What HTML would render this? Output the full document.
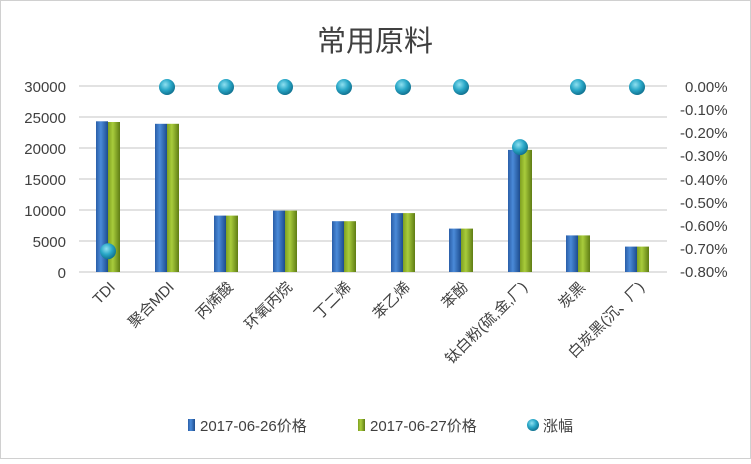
<!DOCTYPE html><html><head><meta charset="utf-8"><style>body{margin:0;background:#fff}</style></head><body>
<svg width="751" height="459" xmlns="http://www.w3.org/2000/svg" font-family="Liberation Sans, Noto Sans CJK SC, sans-serif">
<defs>
<linearGradient id="b" x1="0" x2="1"><stop offset="0" stop-color="#2a5ea8"/><stop offset=".4" stop-color="#4a8ad8"/><stop offset="1" stop-color="#1d4c8e"/></linearGradient>
<linearGradient id="g" x1="0" x2="1"><stop offset="0" stop-color="#7fa020"/><stop offset=".4" stop-color="#a8cc3c"/><stop offset="1" stop-color="#5f7c14"/></linearGradient>
<radialGradient id="d" cx=".4" cy=".35" r=".7"><stop offset="0" stop-color="#8fe0f0"/><stop offset=".5" stop-color="#2aa8c8"/><stop offset="1" stop-color="#0d6a88"/></radialGradient>
</defs>
<rect x="0.5" y="0.5" width="750" height="458" fill="#fff" stroke="#d0d0d0"/>
<text x="375" y="51" font-size="29" text-anchor="middle" fill="#404040">常用原料</text>
<g stroke="#d9d9d9" stroke-width="1.5">
<line x1="79" x2="667" y1="86" y2="86"/><line x1="79" x2="667" y1="117" y2="117"/><line x1="79" x2="667" y1="148" y2="148"/><line x1="79" x2="667" y1="179" y2="179"/><line x1="79" x2="667" y1="210" y2="210"/><line x1="79" x2="667" y1="241" y2="241"/><line x1="79" x2="667" y1="272" y2="272"/>
</g>
<g font-size="15" fill="#404040" text-anchor="end">
<text x="66" y="92">30000</text><text x="66" y="123">25000</text><text x="66" y="154">20000</text><text x="66" y="185">15000</text><text x="66" y="216">10000</text><text x="66" y="247">5000</text><text x="66" y="278">0</text>
</g>
<g font-size="15" fill="#404040">
<text x="685" y="92">0.00%</text><text x="680" y="115">-0.10%</text><text x="680" y="138">-0.20%</text><text x="680" y="161">-0.30%</text><text x="680" y="185">-0.40%</text><text x="680" y="208">-0.50%</text><text x="680" y="231">-0.60%</text><text x="680" y="254">-0.70%</text><text x="680" y="277">-0.80%</text>
</g>
<g>
<rect x="96" y="121.3" width="12" height="150.7" fill="url(#b)"/><rect x="108" y="122" width="12" height="150" fill="url(#g)"/>
<rect x="155" y="123.8" width="12" height="148.2" fill="url(#b)"/><rect x="167" y="123.8" width="12" height="148.2" fill="url(#g)"/>
<rect x="214" y="215.6" width="12" height="56.4" fill="url(#b)"/><rect x="226" y="215.6" width="12" height="56.4" fill="url(#g)"/>
<rect x="273" y="210.6" width="12" height="61.4" fill="url(#b)"/><rect x="285" y="210.6" width="12" height="61.4" fill="url(#g)"/>
<rect x="332" y="221.2" width="12" height="50.8" fill="url(#b)"/><rect x="344" y="221.2" width="12" height="50.8" fill="url(#g)"/>
<rect x="391" y="213.1" width="12" height="58.9" fill="url(#b)"/><rect x="403" y="213.1" width="12" height="58.9" fill="url(#g)"/>
<rect x="449" y="228.6" width="12" height="43.4" fill="url(#b)"/><rect x="461" y="228.6" width="12" height="43.4" fill="url(#g)"/>
<rect x="508" y="149.9" width="12" height="122.1" fill="url(#b)"/><rect x="520" y="149.9" width="12" height="122.1" fill="url(#g)"/>
<rect x="566" y="235.4" width="12" height="36.6" fill="url(#b)"/><rect x="578" y="235.4" width="12" height="36.6" fill="url(#g)"/>
<rect x="625" y="246.6" width="12" height="25.4" fill="url(#b)"/><rect x="637" y="246.6" width="12" height="25.4" fill="url(#g)"/>
</g>
<g font-size="15" fill="#404040" text-anchor="end">
<text transform="translate(116,288) rotate(-45)">TDI</text>
<text transform="translate(175,288) rotate(-45)">聚合MDI</text>
<text transform="translate(234,288) rotate(-45)">丙烯酸</text>
<text transform="translate(293,288) rotate(-45)">环氧丙烷</text>
<text transform="translate(352,288) rotate(-45)">丁二烯</text>
<text transform="translate(411,288) rotate(-45)">苯乙烯</text>
<text transform="translate(469,288) rotate(-45)">苯酚</text>
<text transform="translate(528,288) rotate(-45)">钛白粉(硫,金,厂)</text>
<text transform="translate(586,288) rotate(-45)">炭黑</text>
<text transform="translate(645,288) rotate(-45)">白炭黑(沉、厂)</text>
</g>
<g fill="url(#d)">
<circle cx="108" cy="251.2" r="8"/><circle cx="167" cy="87" r="8"/><circle cx="226" cy="87" r="8"/><circle cx="285" cy="87" r="8"/><circle cx="344" cy="87" r="8"/><circle cx="403" cy="87" r="8"/><circle cx="461" cy="87" r="8"/><circle cx="520" cy="147.1" r="8"/><circle cx="578" cy="87" r="8"/><circle cx="637" cy="87" r="8"/>
</g>
<g font-size="15" fill="#404040">
<rect x="188" y="419" width="7" height="12" fill="url(#b)"/><text x="200" y="431">2017-06-26价格</text>
<rect x="358" y="419" width="7" height="12" fill="url(#g)"/><text x="370" y="431">2017-06-27价格</text>
<circle cx="533" cy="425" r="6" fill="url(#d)"/><text x="543" y="431">涨幅</text>
</g>
</svg>
</body></html>
